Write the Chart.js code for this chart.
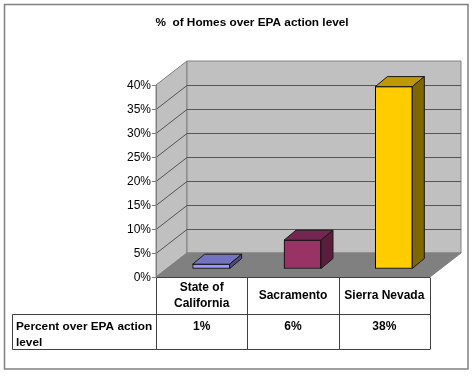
<!DOCTYPE html>
<html>
<head>
<meta charset="utf-8">
<script src="https://cdn.jsdelivr.net/npm/chart.js@4"></script>
<style>
  html, body { margin: 0; padding: 0; background: #fff; }
  canvas { display: block; }
</style>
</head>
<body>
<canvas id="radon" width="475" height="376"></canvas>
<script>
const chartTitle = "%  of Homes over EPA action level";
const categories = ["State of California", "Sacramento", "Sierra Nevada"];
const categoryLines = [["State of", "California"], ["Sacramento"], ["Sierra Nevada"]];
const percentOver = [1, 6, 38];
const rowHeader = ["Percent over EPA action", "level"];

const frontColors = ["#9999FF", "#993366", "#FFCC00"];
const topColors = ["#7373BF", "#732650", "#BF9900"];
const sideColors = ["#4C4C7F", "#993366", "#7F6600"];

// depth of the walls and of the bars
const wallDx = 31, wallDy = -24;
const barDx = 9.5, barDy = -8;
const depthDx = 12, depthDy = -10;

const font = "Liberation Sans, Arial, sans-serif";

function dither(color) {
  const c = document.createElement("canvas");
  c.width = 2; c.height = 2;
  const g = c.getContext("2d");
  g.fillStyle = color;
  g.fillRect(0, 0, 2, 2);
  g.fillStyle = "#1a0a12";
  g.fillRect(0, 0, 1, 1);
  g.fillRect(1, 1, 1, 1);
  return g.createPattern(c, "repeat");
}

function poly(ctx, pts, fill, stroke) {
  ctx.beginPath();
  pts.forEach((p, i) => i ? ctx.lineTo(p[0], p[1]) : ctx.moveTo(p[0], p[1]));
  ctx.closePath();
  if (fill) { ctx.fillStyle = fill; ctx.fill(); }
  if (stroke) { ctx.strokeStyle = stroke; ctx.lineWidth = 1; ctx.stroke(); }
}

function line(ctx, x1, y1, x2, y2, color) {
  ctx.beginPath();
  ctx.moveTo(x1, y1);
  ctx.lineTo(x2, y2);
  ctx.strokeStyle = color;
  ctx.lineWidth = 1;
  ctx.stroke();
}

const walls3d = {
  id: "walls3d",
  beforeDraw(chart) {
    const { ctx, chartArea: a, scales } = chart;
    const y = scales.y;
    ctx.save();
    ctx.fillStyle = "#fff";
    ctx.fillRect(0, 0, chart.width, chart.height);
    ctx.strokeStyle = "#808080";
    ctx.lineWidth = 1.5;
    ctx.strokeRect(4.5, 4.5, 463.5, 364.5);

    const l = a.left, r = a.right, t = a.top, b = a.bottom;
    poly(ctx, [[l, t], [l + wallDx, t + wallDy], [l + wallDx, b + wallDy], [l, b]], "#C0C0C0", "#808080");
    poly(ctx, [[l + wallDx, t + wallDy], [r + wallDx, t + wallDy], [r + wallDx, b + wallDy], [l + wallDx, b + wallDy]], "#C0C0C0", "#808080");
    poly(ctx, [[l, b], [l + wallDx, b + wallDy], [r + wallDx, b + wallDy], [r, b]], "#808080", "#808080");

    y.ticks.forEach(tick => {
      if (tick.value === 0 || tick.value === y.max) return;
      const py = Math.round(y.getPixelForValue(tick.value)) + 0.5;
      line(ctx, l, py, l + wallDx, py + wallDy, "#555555");
      line(ctx, l + wallDx, py + wallDy, r + wallDx, py + wallDy, "#555555");
    });

    // data table under the plot
    const tableTop = b + 0.5, rowLine = 314.5, tableBottom = 349.5, headLeft = 12.5;
    const step = (r - l) / categories.length;
    line(ctx, l, tableTop, r, tableTop, "#404040");
    line(ctx, headLeft, rowLine, r, rowLine, "#404040");
    line(ctx, headLeft, tableBottom, r, tableBottom, "#404040");
    line(ctx, headLeft, rowLine, headLeft, tableBottom, "#404040");
    for (let i = 0; i <= categories.length; i++) {
      const x = Math.round(l + step * i) + 0.5;
      line(ctx, x, tableTop, x, tableBottom, "#404040");
    }

    ctx.fillStyle = "#000";
    ctx.font = "bold 12px " + font;
    ctx.textBaseline = "middle";
    ctx.textAlign = "center";
    categoryLines.forEach((lines, i) => {
      const cx = l + step * (i + 0.5);
      const y0 = lines.length > 1 ? 287.5 : 295.5;
      lines.forEach((s, j) => ctx.fillText(s, cx, y0 + j * 16.5));
    });
    percentOver.forEach((v, i) => ctx.fillText(v + "%", l + step * (i + 0.5), 327));
    ctx.textAlign = "left";
    ctx.font = "bold 11.8px " + font;
    rowHeader.forEach((s, j) => ctx.fillText(s, 16, 327 + j * 16));
    ctx.restore();
  },
  beforeDatasetsDraw(chart) {
    chart.ctx.save();
    chart.ctx.translate(barDx, barDy);
  },
  afterDatasetsDraw(chart) {
    const ctx = chart.ctx;
    chart.getDatasetMeta(0).data.forEach((bar, i) => {
      const x1 = bar.x - bar.width / 2, x2 = bar.x + bar.width / 2;
      const top = bar.y, base = bar.base;
      poly(ctx, [[x1, top], [x1 + depthDx, top + depthDy], [x2 + depthDx, top + depthDy], [x2, top]], topColors[i], "#1a1a1a");
      const side = i === 1 ? dither(sideColors[i]) : sideColors[i];
      poly(ctx, [[x2, top], [x2 + depthDx, top + depthDy], [x2 + depthDx, base + depthDy], [x2, base]], side, "#1a1a1a");
    });
    ctx.restore();
  }
};

new Chart(document.getElementById("radon").getContext("2d"), {
  type: "bar",
  data: {
    labels: categories,
    datasets: [{
      data: percentOver,
      backgroundColor: frontColors,
      borderColor: "#000",
      borderWidth: 1,
      borderSkipped: false,
      barThickness: 37,
      clip: false
    }]
  },
  options: {
    responsive: false,
    animation: false,
    layout: { padding: { left: 74, right: 45, top: 0, bottom: 0 } },
    scales: {
      x: {
        grid: { display: false },
        border: { display: false },
        ticks: { display: false },
        afterFit(scale) { scale.height = 99; }
      },
      y: {
        min: 0,
        max: 40,
        afterFit(scale) { scale.width = 82; },
        grid: { drawOnChartArea: false, tickLength: 4, color: "#808080" },
        border: { color: "#808080" },
        ticks: {
          stepSize: 5,
          padding: 1,
          labelOffset: 1,
          color: "#000",
          font: { family: font, size: 12 },
          callback: function(value) {
            return value + "%";
          }
        }
      }
    },
    plugins: {
      legend: { display: false },
      tooltip: { enabled: false },
      title: {
        display: true,
        text: chartTitle,
        color: "#000",
        font: { family: font, size: 11.8, weight: "bold" },
        padding: { top: 16, bottom: 54.84 }
      }
    }
  },
  plugins: [walls3d]
});
</script>
</body>
</html>
